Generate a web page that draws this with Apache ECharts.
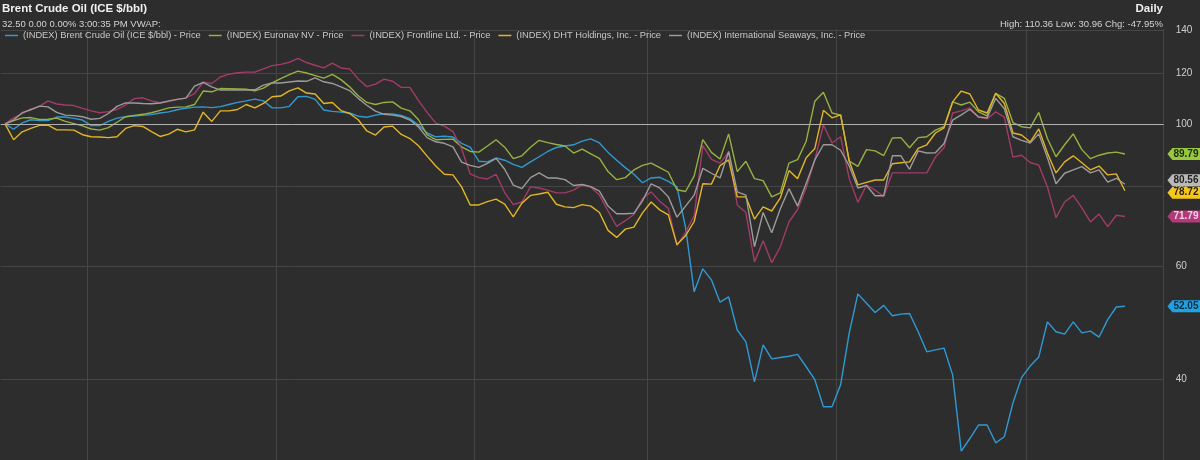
<!DOCTYPE html>
<html>
<head>
<meta charset="utf-8">
<script src="https://cdn.jsdelivr.net/npm/echarts@6/dist/echarts.min.js"></script>
<style>
html,body{margin:0;padding:0;background:#2d2d2d;}
#c{width:1200px;height:460px;}
</style>
</head>
<body>
<div id="c"></div>
<script>
// ---- data (indexed prices, base = 100) ----
const seriesNames = [
  '(INDEX) Brent Crude Oil (ICE $/bbl) - Price',
  '(INDEX) Euronav NV - Price',
  '(INDEX) Frontline Ltd. - Price',
  '(INDEX) DHT Holdings, Inc. - Price',
  '(INDEX) International Seaways, Inc. - Price'
];
const brent = [100,98.1,100.4,101.5,101.2,101.2,102.5,102.5,102,101.4,
  99.4,99.4,100.9,102.1,102.6,102.9,103.1,103.4,104,104.4,
  105.2,105.8,106.2,106.3,106,106.4,107.2,108,108.6,109.3,
  108.6,105.9,105.9,106.5,110.2,110.36,109.2,105.1,104.6,104.3,
  104,102.8,102.4,103.2,103.7,103.6,103.1,101.9,99.5,96.8,
  95.5,95.7,95.4,93.3,92,87.5,87.3,88.5,87.8,86.5,
  85.6,87.3,88.9,90.6,91.9,92.4,92.8,94,94.8,93.4,
  90.3,87.8,85.5,83.5,81,82.4,82.6,81.4,79.8,69,
  54.8,59.5,57.2,52.8,53.8,47.8,45.8,39.7,45.3,43.1,
  43.3,43.5,43.8,41.9,40,36.3,36.3,39.3,47.3,54.4,
  52.6,50.9,52.2,50.3,50.6,50.7,47.5,44.2,44.5,44.8,
  40.7,30.96,32.4,34,34,31.9,32.6,36.8,40.3,42,
  43.4,49.2,47.5,47.1,49.2,47.3,47.6,46.6,49.6,51.9,52.05];
const euronav = [100,101.2,102.2,102.3,101.6,101.7,102.1,100.9,100.1,99.3,
  98.2,97.8,98.7,100.6,102.6,103.1,103.5,104.1,105,105.9,
  106.2,106.3,107.2,112.5,112.2,113.5,113.4,113.3,113.2,112.6,
  113.7,115.8,117.6,119.3,120.8,120,118.9,117.8,119.4,117.2,
  114.2,110.6,108,107.2,108,108.2,105.8,104.8,101.5,96.2,
  94.5,94.6,94.7,92.1,90.6,90.4,92.4,94.5,92,88.3,
  89.2,92,94.3,93.5,92.9,92.4,90.1,91.4,89.8,88.4,
  84.3,81.9,82.5,84.8,86.2,86.9,85.5,84.1,79,78.5,
  83,94.5,90.3,88.2,96.5,84.3,87.5,82.2,81.6,77,
  78.1,86.9,88,94,108.5,112,104,103.2,87.5,85.9,
  91.2,90.8,89.3,95.1,95.2,91.8,95.2,95.5,97.8,99,
  108.2,107,108.1,104.4,102.9,111.6,109.6,100.5,99,98.6,
  104.2,94.9,88.9,92.8,96.5,91.2,88.3,89.4,90.1,90.4,89.79];
const frontline = [100,102.2,103.8,105.5,106.5,108.6,107.4,107,106.8,105.7,
  104.8,104.1,104.5,105.3,107,109.5,109.8,108.6,107.9,108.3,
  109.2,109.8,111.5,116.1,115.6,118.3,119.5,120.1,120.4,120.4,
  121.8,123.2,123.8,124.7,126.5,124.6,123.4,122.2,124.3,122.2,
  121.8,117.5,114.3,115.3,117.4,116.5,114,114,108.7,104.2,
  100.3,99.2,97.3,91.5,83.6,82.5,82.1,83.5,78.2,74.9,
  75.6,79.8,79.5,78.9,78.1,78.1,78.9,80.4,79.7,77.5,
  73.2,69.3,70.7,72.3,76.5,78.4,75.8,73.9,64.6,67.8,
  72,92.5,88.1,86.9,90.4,74.8,72.8,61,65.8,60.8,
  64.4,70.4,73.6,79.5,87.9,99.6,93.4,95.5,82.2,75.5,
  80.3,78.9,77.1,83.9,83.9,83.9,83.9,83.9,88.8,91.8,
  104,104.8,105.9,102.5,101.8,104.4,102.5,88.8,89.4,87.1,
  86.3,79.8,71.5,75.6,77.4,74,70.4,72.4,69.2,72.1,71.79];
const dht = [100,94.5,97.2,98.4,99.5,99.6,97.9,97.9,97.8,96.2,
  95.5,95.4,95.2,95.5,98.4,99.4,99.1,97.3,95.6,96.4,
  98.1,97.2,97.9,104.3,100.9,104.8,104.8,105.3,107.2,105.9,
  107.6,110.2,110.5,112.6,113.8,111.7,111.3,107.6,108,104.9,
  103.8,101.5,97.5,96.1,98.9,99.2,96.3,94.9,92.5,89.1,
  86,83.5,83.3,79.8,74.8,74.8,75.7,76.4,75,71.7,
  75.3,77.4,77.8,78.3,75,74.3,74.1,74.9,74.5,72.8,
  68.3,66.6,68.6,69.1,72.7,75.6,73.5,72.2,64.9,67,
  70.5,80.7,80.6,86.1,87.9,77,77,71.1,74.3,73.2,
  76.7,84.6,82.2,88.6,91.6,105,102.2,103.3,87.5,80.4,
  81.1,81.8,81.8,86.7,87,87.3,91.6,92.8,96.8,98.6,
  108.2,112.5,111.3,105.1,104,111.6,107.6,96.8,96.1,93.7,
  98.2,90.1,83.9,87.3,89.2,87,84.8,86,83.3,83.6,78.72];
const seaways = [100,101.4,104.1,105.2,106.6,106.3,104.2,103.2,103,102.6,
  101.7,102,103.8,106.5,107.8,107.8,107.6,107.5,107.8,108.6,
  109.2,109.7,114.5,116,114.2,112.9,112.9,112.9,112.9,113,
  114.9,115.8,115.8,116.2,116.6,116.5,117.9,116.3,115.6,114.2,
  112.7,109.6,106.9,104.7,103.5,103.2,102.7,101.4,98.9,95.2,
  93.8,93.3,92.1,87.2,86.2,85.6,86.8,88.4,85,80.3,
  79.3,82.5,83.9,82.4,82.4,81.9,80.2,80.5,79.9,78.6,
  74.5,72.5,72.5,72.6,75.9,80.7,79.5,77,71.6,74.5,
  77.5,85.3,83.8,82.4,90.6,78.4,77.5,64.4,72.8,67.7,
  73.8,79.3,74.5,80.8,87.9,92.8,92.8,91,86,79.5,
  80.2,77.3,77.3,89.2,89.2,85,90.8,90.1,90.2,93.2,
  101.4,103.3,105.4,102.5,102.2,109.6,105.6,95.5,94.3,93.4,
  96.5,88.6,80.7,83.8,84.8,85.8,83.9,84.8,81.2,82.3,80.56];
// trading-day slots on the x axis (data + a few empty slots at the right edge)
const tradingDays = Array.from({length: 135}, (_, i) => 'Day ' + (i + 1));
// slots where a new month starts (vertical grid lines)
const monthStarts = [10, 32, 55, 75, 97, 119];
// y axis tick labels
const yTicks = [40, 60, 80, 100, 120, 140];
const baseline = 100;

// ---- styling ----
const lineColors = ['#2f9ad2', '#97b23e', '#a23b68', '#e2b622', '#9b9b9b'];
const tagColors  = ['#1ea2e2', '#96c93c', '#b23a7a', '#f6c71a', '#b9b9b9'];
const tagText    = ['#0d2a3c', '#1e2a0a', '#f4d2e4', '#2a2200', '#1e1e1e'];
const tagShift   = [0, 0, 0, 2, -4];
const FONT = '"Liberation Sans", Arial, sans-serif';
const allData = [brent, euronav, frontline, dht, seaways];

const chart = echarts.init(document.getElementById('c'));

const series = allData.map((d, k) => {
  const last = d.length - 1;
  const s = {
    name: seriesNames[k],
    type: 'line',
    data: d,
    showSymbol: false,
    symbol: 'none',
    lineStyle: {width: 1.4, color: lineColors[k]},
    itemStyle: {color: lineColors[k]},
    z: 2 + k,
    markPoint: {
      silent: true,
      symbol: 'path://M0,6.5 L6,0 L40,0 L40,13 L6,13 Z',
      symbolSize: [33, 12],
      symbolOffset: [59, tagShift[k]],
      itemStyle: {color: tagColors[k]},
      label: {
        show: true, position: 'inside', offset: [2, 0],
        color: tagText[k], fontSize: 10, fontWeight: 'bold', fontFamily: FONT,
        formatter: p => p.value.toFixed(2)
      },
      data: [{coord: [tradingDays[last], d[last]], value: d[last]}]
    }
  };
  if (k === 0) {
    s.markLine = {
      silent: true, symbol: 'none', animation: false,
      label: {show: false},
      lineStyle: {color: '#b0b0b0', width: 1, type: 'solid'},
      data: [{yAxis: baseline}]
    };
  }
  return s;
});

chart.setOption({
  backgroundColor: '#2d2d2d',
  animation: false,
  textStyle: {fontFamily: FONT},
  title: [
    {
      text: 'Brent Crude Oil (ICE $/bbl)',
      subtext: '32.50 0.00 0.00% 3:00:35 PM VWAP:',
      left: 2, top: 3, itemGap: 4, padding: 0,
      textStyle: {color: '#f0f0f0', fontSize: 11.5, fontWeight: 'bold', fontFamily: FONT},
      subtextStyle: {color: '#d2d2d2', fontSize: 9.5, fontFamily: FONT}
    },
    {
      text: 'Daily',
      right: 37, top: 3, padding: 0,
      textStyle: {color: '#f0f0f0', fontSize: 11.5, fontWeight: 'bold', fontFamily: FONT}
    },
    {
      text: 'High: 110.36 Low: 30.96 Chg: -47.95%',
      right: 37, top: 19, padding: 0,
      textStyle: {color: '#d2d2d2', fontSize: 9.5, fontWeight: 'normal', fontFamily: FONT}
    }
  ],
  legend: {
    data: seriesNames,
    left: 5, top: 31, padding: 0,
    icon: 'rect', itemWidth: 13, itemHeight: 1.5, itemGap: 8,
    selectedMode: false,
    textStyle: {color: '#c9c9c9', fontSize: 9.3, fontFamily: FONT}
  },
  grid: {left: 0.7, right: 36.3, top: 29, bottom: 0, containLabel: false},
  xAxis: {
    type: 'category',
    data: tradingDays,
    boundaryGap: true,
    axisLine: {show: false},
    axisTick: {show: false},
    axisLabel: {show: false},
    splitLine: {
      show: true,
      interval: (idx) => monthStarts.indexOf(idx) >= 0,
      lineStyle: {color: '#454545', width: 1}
    }
  },
  yAxis: {
    type: 'log',
    logBase: 10,
    min: 30, max: 140.5,
    position: 'right',
    axisLine: {show: true, lineStyle: {color: '#454545'}},
    axisTick: {show: false, customValues: yTicks},
    axisLabel: {
      customValues: yTicks,
      color: '#cfcfcf', fontSize: 10, margin: 12, fontFamily: FONT,
      formatter: v => String(Math.round(v))
    },
    splitLine: {show: true, lineStyle: {color: '#454545', width: 1}}
  },
  series: series
});
</script>
</body>
</html>
